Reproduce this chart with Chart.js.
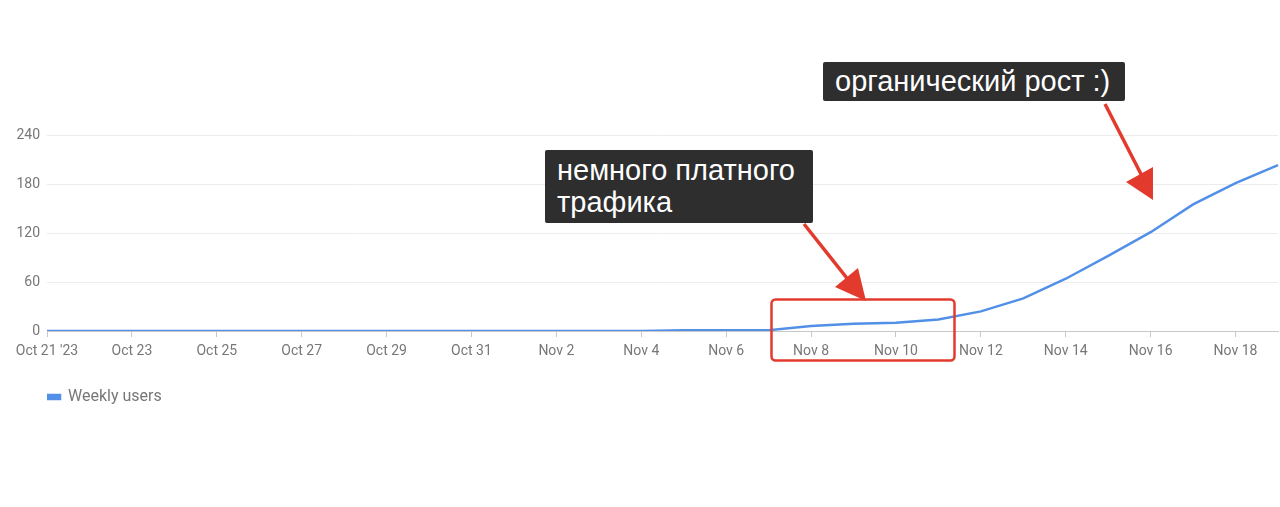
<!DOCTYPE html>
<html>
<head>
<meta charset="utf-8">
<script src="https://cdn.jsdelivr.net/npm/chart.js@4/dist/chart.umd.min.js"></script>
<style>
  html, body { margin: 0; padding: 0; background: #fff; }
  #wrap { position: relative; width: 1280px; height: 507px; overflow: hidden; }
  #chart { position: absolute; left: 0; top: 0; }
  .note {
    position: absolute; background: #2e2e2e; color: #fff;
    font-family: "Liberation Sans", Arial, sans-serif; font-size: 29px;
    line-height: 32px; padding: 0 12px; box-sizing: border-box; border-radius: 2px;
    white-space: nowrap;
  }
  #overlay { position: absolute; left: 0; top: 0; pointer-events: none; }
</style>
</head>
<body>
<div id="wrap">
  <canvas id="chart" width="1280" height="507"></canvas>
  <svg id="overlay" width="1280" height="507">
    <rect x="771.5" y="299.5" width="183" height="61" rx="4" fill="none" stroke="#e23b2e" stroke-width="2.5"/>
    <line x1="804" y1="224" x2="850" y2="282" stroke="#e23b2e" stroke-width="3.5"/>
    <polygon points="866,301 835,287 858,268" fill="#e23b2e"/>
    <line x1="1105" y1="104" x2="1143" y2="178" stroke="#e23b2e" stroke-width="3.5"/>
    <polygon points="1153,200 1126,182 1153,167" fill="#e23b2e"/>
  </svg>
  <div class="note" style="left:545px; top:150px; width:268px; height:73px; padding-top:4px;">немного платного<br>трафика</div>
  <div class="note" style="left:823px; top:62px; width:302px; height:39px; padding-top:3px;">органический рост :)</div>
</div>
<script>
const days = ["Oct 21 '23", "Oct 22", "Oct 23", "Oct 24", "Oct 25", "Oct 26", "Oct 27", "Oct 28",
  "Oct 29", "Oct 30", "Oct 31", "Nov 1", "Nov 2", "Nov 3", "Nov 4", "Nov 5", "Nov 6", "Nov 7",
  "Nov 8", "Nov 9", "Nov 10", "Nov 11", "Nov 12", "Nov 13", "Nov 14", "Nov 15", "Nov 16",
  "Nov 17", "Nov 18", "Nov 19"];
const weeklyUsers = [0, 0, 0, 0, 0, 0, 0, 0, 0, 0, 0, 0, 0, 0, 0, 1, 1, 1,
  6, 9, 10, 14, 24, 40, 64, 92, 121, 155, 181, 203];
const yTicks = [0, 60, 120, 180, 240];

const grey = "#777";

new Chart(document.getElementById("chart"), {
  type: "line",
  data: {
    labels: days,
    datasets: [{
      label: "Weekly users",
      data: weeklyUsers,
      borderColor: "#5290e8",
      backgroundColor: "#5290e8",
      borderWidth: 2.5,
      pointRadius: 0,
      tension: 0
    }]
  },
  options: {
    responsive: false,
    animation: false,
    layout: {padding: {top: 135, right: 2, left: 0, bottom: 0}},
    scales: {
      x: {
        grid: {drawOnChartArea: false, drawTicks: true, tickLength: 6, color: "#c8c8c8"},
        border: {color: "#c8c8c8"},
        ticks: {
          autoSkip: false, maxRotation: 0, color: grey, padding: 6,
          font: {family: "Roboto", size: 14},
          callback: (v, i) => (i % 2 === 0 ? days[i] : null)
        },
        // extra height pushes the legend down below the ticks
        afterFit: s => { s.height = 58; }
      },
      y: {
        min: yTicks[0], max: yTicks[yTicks.length - 1],
        afterBuildTicks: s => { s.ticks = yTicks.map(v => ({value: v})); },
        grid: {color: "#ececec", drawTicks: false},
        border: {display: false},
        ticks: {color: grey, padding: 7, font: {family: "Roboto", size: 14}},
        afterFit: s => { s.width = 47; }
      }
    },
    plugins: {
      legend: {
        position: "bottom", align: "start", fullSize: false,
        labels: {boxWidth: 13, boxHeight: 4, color: grey, padding: 0, font: {family: "Roboto", size: 16}}
      },
      tooltip: {enabled: false}
    }
  },
  plugins: [{
    id: "legendSpace",
    afterInit(chart) {
      const fit = chart.legend.fit;
      chart.legend.fit = function () {
        fit.call(this);
        this.height = 118;
      };
    }
  }]
});
</script>
</body>
</html>
